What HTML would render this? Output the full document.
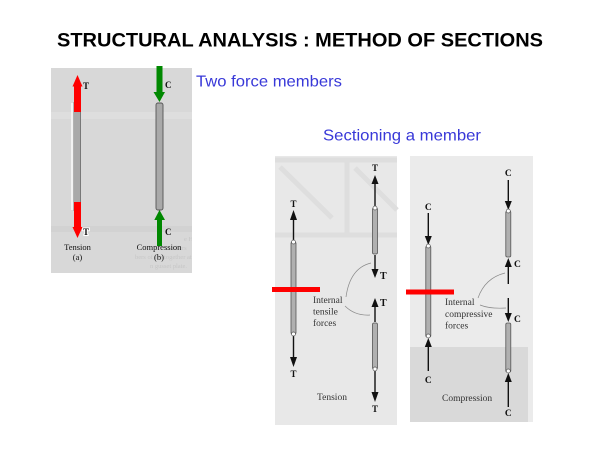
<!DOCTYPE html>
<html><head><meta charset="utf-8"><style>
html,body{margin:0;padding:0;background:#fff;width:600px;height:450px;overflow:hidden}
svg{display:block}
</style></head><body>
<svg width="600" height="450" viewBox="0 0 600 450" xmlns="http://www.w3.org/2000/svg">
<defs>
<clipPath id="lp"><rect x="51" y="68" width="141" height="205"/></clipPath>
</defs>
<rect width="600" height="450" fill="#fff"/>
<text x="57" y="46.5" font-family="Liberation Sans, sans-serif" font-weight="bold" font-size="19.5" textLength="486" lengthAdjust="spacingAndGlyphs" fill="#000">STRUCTURAL ANALYSIS : METHOD OF SECTIONS</text>
<text x="196" y="86.5" font-family="Liberation Sans, sans-serif" font-size="16" textLength="146" lengthAdjust="spacingAndGlyphs" fill="#3838d8">Two force members</text>
<text x="323" y="140.5" font-family="Liberation Sans, sans-serif" font-size="16" textLength="158" lengthAdjust="spacingAndGlyphs" fill="#3838d8">Sectioning a member</text>

<!-- Left panel -->
<rect x="51" y="68" width="141" height="205" fill="#d8d8d8"/>
<rect x="51" y="112" width="141" height="7" fill="#dedede"/>
<rect x="51" y="226" width="141" height="6" fill="#d2d2d2"/>
<g clip-path="url(#lp)" font-family="Liberation Serif, serif" font-size="6.5" fill="#c6c6c6">
<text x="184" y="241">e Howe trusses are used to support</text>
<text x="150" y="250">                  , the members</text>
<text x="135" y="259">bers of the together at a common p</text>
<text x="150" y="268">n gusset plate.</text>
</g>
<!-- tension bar -->
<rect x="73.5" y="103" width="7" height="107" fill="#a9a9a9" stroke="#666" stroke-width="0.8"/>
<rect x="71" y="103" width="2.5" height="107" fill="#f2f2f2"/>
<rect x="74" y="86" width="7" height="26" fill="#f00"/>
<polygon points="72.5,86.5 82.5,86.5 77.5,75" fill="#f00"/>
<rect x="74" y="202" width="7" height="26" fill="#f00"/>
<polygon points="72.5,227 82.5,227 77.5,238" fill="#f00"/>
<text x="83" y="89" font-family="Liberation Serif, serif" font-weight="bold" font-size="9" fill="#111">T</text>
<text x="83" y="235" font-family="Liberation Serif, serif" font-weight="bold" font-size="9" fill="#fff" stroke="#fff" stroke-width="2">T</text>
<text x="83" y="235" font-family="Liberation Serif, serif" font-weight="bold" font-size="9" fill="#111">T</text>
<!-- compression bar -->
<rect x="156" y="103" width="7" height="107" fill="#a9a9a9" stroke="#555" stroke-width="0.9" rx="2"/>
<rect x="156.5" y="66" width="6" height="27" fill="#080"/>
<polygon points="153.5,92 165,92 159.5,102" fill="#080"/>
<polygon points="154.3,220 165,220 159.5,210" fill="#080"/>
<rect x="157" y="219" width="5" height="27" fill="#080"/>
<text x="165" y="88" font-family="Liberation Serif, serif" font-weight="bold" font-size="9" fill="#111">C</text>
<text x="165" y="235" font-family="Liberation Serif, serif" font-weight="bold" font-size="9" fill="#111">C</text>
<g font-family="Liberation Serif, serif" font-size="8.5" fill="#111">
<text x="77.5" y="250" text-anchor="middle">Tension</text>
<text x="77.5" y="260" text-anchor="middle">(a)</text>
<text x="159" y="250" text-anchor="middle">Compression</text>
<text x="159" y="260" text-anchor="middle">(b)</text>
</g>

<!-- Panel 1 -->
<rect x="275" y="156" width="122" height="269" fill="#e8e8e8"/>
<g stroke="#dedede" stroke-width="5" fill="none">
<line x1="275" y1="160" x2="397" y2="160"/>
<line x1="280" y1="167" x2="332" y2="218"/>
<line x1="347" y1="160" x2="347" y2="235"/>
<line x1="355" y1="168" x2="397" y2="210"/>
<line x1="275" y1="235" x2="397" y2="235"/>
</g>
<g stroke="#111" stroke-width="1.4">
<line x1="293.5" y1="218" x2="293.5" y2="241"/>
<line x1="293.5" y1="335" x2="293.5" y2="358"/>
<line x1="375" y1="183" x2="375" y2="207"/>
<line x1="375" y1="255" x2="375" y2="270"/>
<line x1="375" y1="306" x2="375" y2="322"/>
<line x1="375" y1="370" x2="375" y2="393"/>
</g>
<g fill="#111">
<polygon points="290,220 297,220 293.5,210"/>
<polygon points="290,357 297,357 293.5,367"/>
<polygon points="371.5,184 378.5,184 375,175"/>
<polygon points="371.5,269 378.5,269 375,278"/>
<polygon points="371.5,307 378.5,307 375,298"/>
<polygon points="371.5,392 378.5,392 375,402"/>
</g>
<g fill="#b0b0b0" stroke="#555" stroke-width="0.8">
<rect x="291" y="242" width="5" height="92" rx="1.5"/>
<rect x="372.5" y="208" width="5" height="46" rx="1.5"/>
<rect x="372.5" y="323" width="5" height="46" rx="1.5"/>
</g>
<g fill="#fff" stroke="#555" stroke-width="0.7">
<circle cx="293.5" cy="242" r="2"/><circle cx="293.5" cy="334" r="2"/>
<circle cx="375" cy="208" r="2"/><circle cx="375" cy="369" r="2"/>
</g>
<rect x="272" y="287" width="48" height="5" fill="#f00"/>
<g font-family="Liberation Serif, serif" font-weight="bold" font-size="9" fill="#111" text-anchor="middle">
<text x="293.5" y="207">T</text>
<text x="293.5" y="377">T</text>
<text x="375" y="171">T</text>
<text x="375" y="412">T</text>
</g>
<g font-family="Liberation Serif, serif" font-weight="bold" font-size="10" fill="#111">
<text x="380" y="279">T</text>
<text x="380" y="306">T</text>
</g>
<g font-family="Liberation Serif, serif" font-size="9.5" fill="#333">
<text x="313" y="303">Internal</text>
<text x="313" y="314.5">tensile</text>
<text x="313" y="326">forces</text>
<text x="317" y="400">Tension</text>
</g>
<g fill="none" stroke="#8a8a8a" stroke-width="0.7">
<path d="M346 297 Q350 268 371 263"/>
<path d="M345 306 Q355 316 370 315"/>
</g>

<!-- Panel 2 -->
<rect x="410" y="156" width="123" height="266" fill="#ebebeb"/>
<rect x="410" y="347" width="118" height="75" fill="#d9d9d9"/>
<g stroke="#111" stroke-width="1.4">
<line x1="428.3" y1="213" x2="428.3" y2="237"/>
<line x1="428.3" y1="346" x2="428.3" y2="371"/>
<line x1="508.3" y1="180" x2="508.3" y2="202"/>
<line x1="508.3" y1="266" x2="508.3" y2="284"/>
<line x1="508.3" y1="298" x2="508.3" y2="314"/>
<line x1="508.3" y1="381" x2="508.3" y2="407"/>
</g>
<g fill="#111">
<polygon points="424.8,236 431.8,236 428.3,245"/>
<polygon points="424.8,347 431.8,347 428.3,338"/>
<polygon points="504.8,201 511.8,201 508.3,210"/>
<polygon points="504.8,267 511.8,267 508.3,258"/>
<polygon points="504.8,313 511.8,313 508.3,322"/>
<polygon points="504.8,382 511.8,382 508.3,373"/>
</g>
<g fill="#b0b0b0" stroke="#555" stroke-width="0.8">
<rect x="425.8" y="246" width="5" height="91" rx="1.5"/>
<rect x="505.8" y="211" width="5" height="46" rx="1.5"/>
<rect x="505.8" y="323" width="5" height="49" rx="1.5"/>
</g>
<g fill="#fff" stroke="#555" stroke-width="0.7">
<circle cx="428.3" cy="246" r="2"/><circle cx="428.3" cy="336" r="2"/>
<circle cx="508.3" cy="211" r="2"/><circle cx="508.3" cy="371" r="2"/>
</g>
<rect x="406" y="289.5" width="48" height="5" fill="#f00"/>
<g font-family="Liberation Serif, serif" font-weight="bold" font-size="9.5" fill="#111" text-anchor="middle">
<text x="428.3" y="210">C</text>
<text x="428.3" y="383">C</text>
<text x="508.3" y="176">C</text>
<text x="508.3" y="416">C</text>
</g>
<g font-family="Liberation Serif, serif" font-weight="bold" font-size="9.5" fill="#111">
<text x="514" y="267">C</text>
<text x="514" y="322">C</text>
</g>
<g font-family="Liberation Serif, serif" font-size="9.5" fill="#333">
<text x="445" y="305">Internal</text>
<text x="445" y="317">compressive</text>
<text x="445" y="328.5">forces</text>
<text x="442" y="401">Compression</text>
</g>
<g fill="none" stroke="#8a8a8a" stroke-width="0.7">
<path d="M478 298 Q485 278 505 273"/>
<path d="M480 305 Q490 309 506 308"/>
</g>
</svg>
</body></html>
